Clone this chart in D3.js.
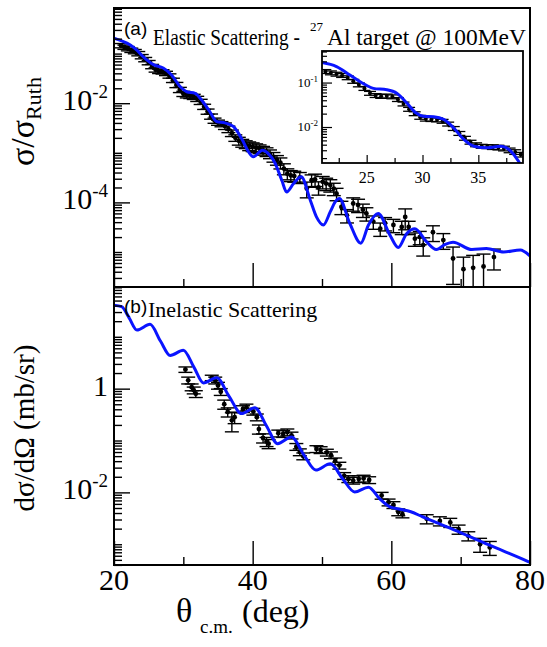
<!DOCTYPE html>
<html><head><meta charset="utf-8">
<script src="https://cdn.jsdelivr.net/npm/d3@7"></script>
<style>body{margin:0;background:#fff}svg{display:block}</style>
</head><body>
<svg id="c" width="547" height="647"></svg>
<script>
// ---------- DATA ----------
// (a) elastic scattering, main panel: data
const elasticTheta = [21.0,21.5,22.0,22.5,23.0,23.5,24.0,24.5,25.0,25.5,26.0,26.5,27.0,27.5,28.0,28.5,29.0,29.5,30.0,30.5,31.0,31.5,32.0,32.5,33.0,33.5,34.0,34.5,35.0,35.5,36.0,36.5,37.0,37.5,38.0,38.5,39.0,39.5,40.0,40.5,41.0,41.5,42.0,42.5,43.0,43.5,44.0,44.5,45.0,45.5,46.0,46.8,47.8,48.5,49.0,49.5,50.1,50.6,51.2,51.7,52.1,52.8,53.6,54.5,55.2,55.9,56.4,57.4,58.4,59.1,60.3,61.5,62.0,62.5,63.4,64.1,64.6,66.0,67.5,68.9,70.4,71.8,73.3,74.8];
const elasticSigma = [0.145,0.135,0.126,0.117,0.110,0.100,0.087,0.076,0.066,0.055,0.047,0.044,0.043,0.040,0.0355,0.029,0.0234,0.0186,0.0155,0.0145,0.0141,0.0135,0.0123,0.0107,0.0085,0.0068,0.0054,0.00447,0.00407,0.0038,0.00347,0.0030,0.0025,0.0020,0.00174,0.00158,0.00148,0.00138,0.00132,0.00126,0.0012,0.00112,0.00105,0.00095,0.00083,0.00072,0.00063,0.00048,0.00038,0.00035,0.00034,0.00032,0.00019,0.00028,0.00029,0.0002,0.00026,0.00024,0.000224,0.00019,0.00015,8.1e-5,5.5e-5,9.5e-5,8.9e-5,7.1e-5,6.0e-5,4.1e-5,2.95e-5,3.8e-5,3.5e-5,3.2e-5,5.1e-5,3.2e-5,1.86e-5,2.0e-5,1.38e-5,2.5e-5,1.74e-5,7.4e-6,4.5e-6,4.8e-6,5.1e-6,7.9e-6];
const elasticErr = [0.1,0.1,0.1,0.1,0.1,0.1,0.1,0.1,0.1,0.1,0.1,0.1,0.1,0.1,0.1,0.1,0.12,0.12,0.12,0.12,0.12,0.12,0.12,0.12,0.12,0.12,0.12,0.12,0.12,0.12,0.15,0.15,0.15,0.15,0.18,0.18,0.18,0.2,0.2,0.2,0.2,0.2,0.2,0.2,0.22,0.22,0.25,0.25,0.25,0.25,0.25,0.25,0.35,0.28,0.28,0.3,0.28,0.28,0.28,0.28,0.28,0.3,0.3,0.3,0.3,0.3,0.3,0.3,0.3,0.3,0.3,0.3,0.45,0.3,0.3,0.3,0.4,0.35,0.35,0.7,0.75,0.78,0.78,0.45];
// (a) elastic scattering, main panel: calculation
const elasticCurveTheta = [20.0,21.0,22.3,23.3,24.2,25.7,27.1,28.3,29.5,30.5,31.7,32.6,33.8,34.8,36.0,37.2,38.4,39.4,40.1,41.4,42.3,43.2,44.2,44.9,45.9,47.0,48.3,49.2,50.2,51.2,51.9,52.5,54.0,55.6,56.7,58.1,59.8,61.0,62.2,63.4,65.0,66.5,67.7,68.9,71.6,73.7,76.2,78.6,80.0];
const elasticCurveSigma = [0.204,0.182,0.151,0.117,0.087,0.060,0.051,0.037,0.0219,0.0170,0.0158,0.0117,0.0068,0.00427,0.0040,0.0034,0.00195,0.00105,0.00083,0.00112,0.00095,0.00063,0.00028,0.000162,0.00024,0.00033,0.000112,5.1e-5,3.5e-5,6.5e-5,1.02e-4,1.2e-4,3.8e-5,1.51e-5,3.5e-5,6.0e-5,2.19e-5,1.23e-5,2.34e-5,2.95e-5,1.66e-5,1.12e-5,1.41e-5,1.58e-5,1.12e-5,1.17e-5,1.0e-5,1.1e-5,8.3e-6];
// (a) inset: data and calculation, 21-39 deg
const insetTheta = [21.3,21.8,22.3,22.8,23.3,23.8,24.3,24.8,25.3,25.8,26.3,26.8,27.3,27.8,28.3,28.8,29.3,29.8,30.3,30.8,31.3,31.8,32.3,32.8,33.3,33.8,34.3,34.8,35.3,35.8,36.3,36.8,37.3,37.8,38.3,38.8];
const insetSigma = [0.178,0.166,0.155,0.145,0.129,0.107,0.089,0.074,0.0575,0.0513,0.049,0.050,0.048,0.0417,0.0331,0.0251,0.020,0.0166,0.0151,0.0148,0.0145,0.0135,0.0117,0.0093,0.0072,0.0056,0.00457,0.0040,0.0037,0.00363,0.00355,0.00347,0.0033,0.0030,0.00275,0.0024];
const insetErr = [0.1,0.1,0.1,0.1,0.1,0.1,0.1,0.1,0.1,0.1,0.1,0.1,0.1,0.1,0.1,0.1,0.1,0.1,0.1,0.1,0.1,0.1,0.1,0.1,0.1,0.1,0.1,0.1,0.1,0.1,0.12,0.12,0.12,0.12,0.12,0.12];
const insetCurveTheta = [21.0,22.3,23.5,24.6,25.6,26.8,27.7,28.6,29.4,30.1,31.0,31.9,32.8,33.7,34.6,35.8,37.0,37.9,38.6,39.0];
const insetCurveSigma = [0.282,0.229,0.148,0.098,0.074,0.069,0.0575,0.0347,0.0209,0.0174,0.0170,0.0148,0.0095,0.00525,0.0037,0.0034,0.0037,0.00288,0.0017,0.00112];
// (b) inelastic scattering: data
const inelasticTheta = [30.3,30.7,31.2,31.5,31.8,34.1,34.6,35.0,35.4,35.9,36.4,37.0,37.4,38.6,39.1,40.1,40.6,40.9,41.5,42.0,42.3,43.7,44.4,45.0,45.6,46.3,46.8,47.3,49.2,49.8,50.7,51.3,51.9,52.5,53.2,53.8,54.5,55.3,56.0,56.8,58.6,59.6,60.3,61.0,61.6,65.1,67.0,68.5,69.7,71.1,72.8,74.2];
const inelasticSigma = [2.34,1.45,1.07,0.933,0.794,1.62,1.45,1.15,0.871,0.501,0.355,0.245,0.282,0.407,0.437,0.363,0.282,0.166,0.112,0.0955,0.087,0.138,0.135,0.145,0.126,0.076,0.060,0.050,0.069,0.066,0.059,0.0525,0.040,0.0331,0.0209,0.0182,0.0170,0.0182,0.0186,0.0174,0.0087,0.00646,0.00575,0.00417,0.0038,0.00309,0.00282,0.00263,0.00195,0.00145,0.0010,0.00087];
const inelasticErr = [0.12,0.15,0.15,0.15,0.15,0.12,0.15,0.15,0.15,0.2,0.2,0.4,0.25,0.15,0.15,0.15,0.15,0.2,0.2,0.2,0.2,0.15,0.15,0.15,0.15,0.15,0.15,0.15,0.15,0.15,0.15,0.15,0.15,0.15,0.15,0.15,0.15,0.15,0.15,0.15,0.15,0.15,0.15,0.15,0.15,0.2,0.2,0.2,0.2,0.2,0.3,0.3];
// (b) inelastic scattering: calculation
const inelasticCurveTheta = [20.0,21.1,22.2,23.3,25.2,26.7,28.1,30.0,31.5,32.9,34.8,36.6,38.4,40.3,42.0,43.6,45.6,47.4,49.1,51.2,53.0,54.7,56.7,58.3,59.8,61.5,62.7,64.5,66.1,69.9,73.3,76.2,79.5,80.0];
const inelasticCurveSigma = [40.7,38.0,22.9,13.5,17.4,8.3,4.37,5.5,2.63,1.29,1.62,0.71,0.331,0.427,0.191,0.087,0.117,0.0525,0.0269,0.0355,0.0182,0.0102,0.0126,0.0076,0.00525,0.00468,0.00427,0.00339,0.00275,0.0017,0.00107,0.00074,0.00048,0.000447];
// tick labels
const xTickLabels = [20,40,60,80];
const xMinorTicks = [30,50,70];
const topYTickLabels = [1e-2,1e-4];
const botYTickLabels = [1,1e-2];
const insetXTickLabels = [25,30,35];
const insetXMinorTicks = [22.5,27.5,32.5,37.5];
const insetYTickLabels = [1e-1,1e-2];

// ---------- DRAWING ----------
const svg = d3.select("#c");
const BLUE = "#0a14ff";
const serif = "Liberation Serif, Times New Roman, serif";
const sans = "Liberation Sans, Arial, sans-serif";

const x = d3.scaleLinear().domain([20,80]).range([114,530]);
const yTop = d3.scaleLog().domain([1.97e-6,0.83]).range([287,8]);
const yBot = d3.scaleLog().domain([3.98e-4,91.2]).range([565,287]);
const xIn = d3.scaleLinear().domain([21,39]).range([322,523]);
const yIn = d3.scaleLog().domain([1.55e-3,0.513]).range([163,51]);

function logMinors(ys, exclude) {
  const [a,b] = ys.domain(); const out = [];
  for (let n = Math.floor(Math.log10(a)); n <= Math.ceil(Math.log10(b)); n++)
    for (let k = 1; k <= 9; k++) {
      const v = k*Math.pow(10,n);
      if (v >= a && v <= b && !exclude.some(e => Math.abs(e - v) / v < 1e-6)) out.push(v);
    }
  return out;
}

function panel(o) {
  const g = svg.append("g");
  const [xa,xb] = o.xs.range(); const [yb,ya] = o.ys.range();
  if (o.bg) g.append("rect").attr("x",xa).attr("y",ya).attr("width",xb-xa).attr("height",yb-ya).attr("fill","#fff");
  svg.append("clipPath").attr("id",o.id).append("rect").attr("x",xa).attr("y",ya).attr("width",xb-xa).attr("height",yb-ya);
  const p = g.append("g").attr("clip-path",`url(#${o.id})`);
  const d0 = o.ys.domain()[0]*0.05;
  const idx = d3.range(o.theta.length);
  const lo = i => Math.max(o.sigma[i]*(1-o.err[i]), d0);
  const hi = i => o.sigma[i]*(1+o.err[i]);
  const eb = p.append("g").attr("stroke","#000").attr("stroke-width",o.ebW);
  eb.selectAll("line.v").data(idx).join("line").attr("class","v")
    .attr("x1",i=>o.xs(o.theta[i])).attr("x2",i=>o.xs(o.theta[i]))
    .attr("y1",i=>o.ys(lo(i))).attr("y2",i=>o.ys(hi(i)));
  eb.selectAll("line.t").data(idx).join("line").attr("class","t")
    .attr("x1",i=>o.xs(o.theta[i])-o.cap).attr("x2",i=>o.xs(o.theta[i])+o.cap)
    .attr("y1",i=>o.ys(hi(i))).attr("y2",i=>o.ys(hi(i)));
  eb.selectAll("line.b").data(idx).join("line").attr("class","b")
    .attr("x1",i=>o.xs(o.theta[i])-o.cap).attr("x2",i=>o.xs(o.theta[i])+o.cap)
    .attr("y1",i=>o.ys(lo(i))).attr("y2",i=>o.ys(lo(i)));
  p.append("g").selectAll("circle").data(idx).join("circle")
    .attr("cx",i=>o.xs(o.theta[i])).attr("cy",i=>o.ys(o.sigma[i])).attr("r",o.r).attr("fill","#000");
  const line = d3.line().x(d=>o.xs(d[0])).y(d=>o.ys(d[1])).curve(d3.curveMonotoneX);
  p.append("path").datum(o.cTheta.map((t,i)=>[t,o.cSigma[i]]))
    .attr("d",line).attr("fill","none").attr("stroke",BLUE).attr("stroke-width",o.curveW);
  const tk = (axis) => (s) => { s.call(axis); s.select(".domain").remove(); s.selectAll("line").attr("stroke","#000").attr("stroke-width",o.tickW); };
  g.append("g").attr("transform",`translate(${xa},0)`)
    .call(tk(d3.axisLeft(o.ys).tickValues(o.yMajor).tickSize(-o.yMajLen).tickSizeOuter(0).tickFormat("")));
  g.append("g").attr("transform",`translate(${xa},0)`)
    .call(tk(d3.axisLeft(o.ys).tickValues(logMinors(o.ys,o.yMajor)).tickSize(-o.yMinLen).tickSizeOuter(0).tickFormat("")));
  g.append("g").attr("transform",`translate(0,${yb})`)
    .call(tk(d3.axisBottom(o.xs).tickValues(o.xMajor).tickSize(-o.xMajLen).tickSizeOuter(0).tickFormat("")));
  g.append("g").attr("transform",`translate(0,${yb})`)
    .call(tk(d3.axisBottom(o.xs).tickValues(o.xMinor).tickSize(-o.xMinLen).tickSizeOuter(0).tickFormat("")));
  g.append("rect").attr("x",xa).attr("y",ya).attr("width",xb-xa).attr("height",yb-ya)
    .attr("fill","none").attr("stroke","#000").attr("stroke-width",o.frameW);
  return g;
}

function yLabel(ys, v, xr, fs, sfs, rise, dyBase) {
  const e = Math.round(Math.log10(v));
  const t = svg.append("text").attr("x",xr).attr("y",ys(v)+dyBase).attr("text-anchor","end")
    .attr("font-family",serif).attr("font-size",fs).attr("fill","#000");
  if (e === 0) { t.text("1"); return; }
  t.append("tspan").text("10");
  t.append("tspan").attr("font-size",sfs).attr("dy",-rise).text(String(e));
}

panel({id:"cpA", xs:x, ys:yTop, theta:elasticTheta, sigma:elasticSigma, err:elasticErr,
  cTheta:elasticCurveTheta, cSigma:elasticCurveSigma, yMajor:topYTickLabels, xMajor:xTickLabels, xMinor:xMinorTicks,
  yMajLen:16, yMinLen:8, xMajLen:24, xMinLen:8, cap:7, r:2.4, ebW:1.4, curveW:3, tickW:1.4, frameW:2});
panel({id:"cpB", xs:x, ys:yBot, theta:inelasticTheta, sigma:inelasticSigma, err:inelasticErr,
  cTheta:inelasticCurveTheta, cSigma:inelasticCurveSigma, yMajor:botYTickLabels, xMajor:xTickLabels, xMinor:xMinorTicks,
  yMajLen:16, yMinLen:8, xMajLen:24, xMinLen:8, cap:7, r:2.4, ebW:1.4, curveW:3, tickW:1.4, frameW:2});
panel({id:"cpI", bg:true, xs:xIn, ys:yIn, theta:insetTheta, sigma:insetSigma, err:insetErr,
  cTheta:insetCurveTheta, cSigma:insetCurveSigma, yMajor:insetYTickLabels, xMajor:insetXTickLabels, xMinor:insetXMinorTicks,
  yMajLen:10, yMinLen:5, xMajLen:8, xMinLen:5, cap:6, r:2, ebW:1.3, curveW:3, tickW:1.2, frameW:1.8});

topYTickLabels.forEach(v => yLabel(yTop, v, 108, 30, 19, 12, 7));
botYTickLabels.forEach(v => yLabel(yBot, v, 108, 30, 19, 12, 7));
insetYTickLabels.forEach(v => yLabel(yIn, v, 318, 13, 9, 5, 4));
svg.append("g").selectAll("text").data(xTickLabels).join("text")
  .attr("x",d=>x(d)).attr("y",590).attr("text-anchor","middle")
  .attr("font-family",serif).attr("font-size",30).text(d=>d);
svg.append("g").selectAll("text").data(insetXTickLabels).join("text")
  .attr("x",d=>xIn(d)).attr("y",183).attr("text-anchor","middle")
  .attr("font-family",serif).attr("font-size",16).text(d=>d);

const xt = svg.append("text").attr("x",176).attr("y",622).attr("font-family",serif).attr("font-size",34);
xt.append("tspan").text("θ");
xt.append("tspan").attr("x",200).attr("font-size",19).attr("dy",11).text("c.m.");
xt.append("tspan").attr("x",242).attr("dy",-11).attr("font-size",32).text("(deg)");

const yt1 = svg.append("text").attr("transform","translate(34,166) rotate(-90)").attr("font-family",serif).attr("font-size",34);
yt1.append("tspan").text("σ/σ");
yt1.append("tspan").attr("font-size",22).attr("dy",7).text("Ruth");

svg.append("text").attr("transform","translate(34,428) rotate(-90)").attr("text-anchor","middle")
  .attr("font-family",serif).attr("font-size",29).text("dσ/dΩ (mb/sr)");

svg.append("text").attr("x",124).attr("y",35).attr("font-family",sans).attr("font-size",19).text("(a)");
svg.append("text").attr("transform","translate(153,45) scale(0.84,1)").attr("font-family",serif).attr("font-size",23)
  .text("Elastic Scattering -");
svg.append("text").attr("x",310).attr("y",31).attr("font-family",serif).attr("font-size",13).text("27");
svg.append("text").attr("transform","translate(327,45) scale(1.02,1)").attr("font-family",serif).attr("font-size",23)
  .text("Al target @ 100MeV");
svg.append("text").attr("x",124).attr("y",313).attr("font-family",sans).attr("font-size",19).text("(b)");
svg.append("text").attr("x",148).attr("y",317).attr("font-family",serif).attr("font-size",22).text("Inelastic Scattering");
</script>
</body></html>
